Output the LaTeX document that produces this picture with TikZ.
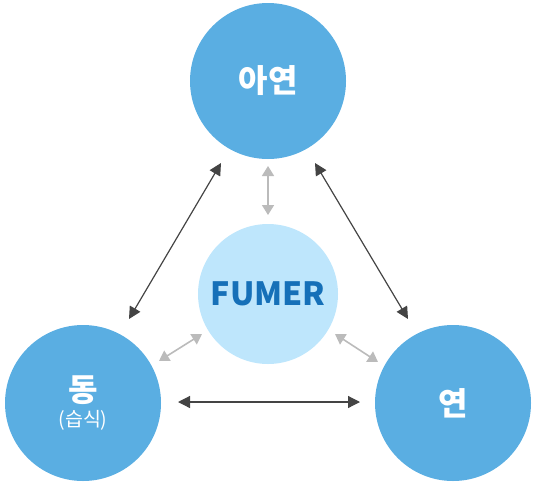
\documentclass[tikz,border=0pt]{standalone}
\usepackage{fontspec}
\newfontfamily\kr{Noto Sans CJK KR}
\usetikzlibrary{arrows.meta}
\definecolor{bigblue}{HTML}{5AAEE2}
\definecolor{paleblue}{HTML}{BEE6FC}
\definecolor{fumerblue}{HTML}{1670B8}
\definecolor{darkarrow}{HTML}{444444}
\definecolor{grayarrow}{HTML}{BBBBBB}
\tikzset{
  bigcircle/.style={circle, fill=bigblue, minimum size=156pt, inner sep=0pt, text=white, align=center},
  midcircle/.style={circle, fill=paleblue, minimum size=140pt, inner sep=0pt},
  darklink/.style={draw=darkarrow, line width=1.2pt, {Triangle[length=12pt,width=12pt]}-{Triangle[length=12pt,width=12pt]}},
  graylink/.style={draw=grayarrow, line width=1.6pt, {Triangle[length=10pt,width=12pt]}-{Triangle[length=10pt,width=12pt]}},
}
\begin{document}
\begin{tikzpicture}[x=1pt,y=-1pt]
\useasboundingbox (0,0) rectangle (534,482);
\node[bigcircle] (zn) at (268,81) {\kr\bfseries\fontsize{32}{34}\selectfont 아연};
\node[bigcircle] (cu) at (83,403) {\kr\bfseries\fontsize{32}{34}\selectfont 동\\[4pt]\kr\mdseries\fontsize{19.5}{21}\selectfont (습식)};
\node[bigcircle] (pb) at (453,403) {\kr\bfseries\fontsize{32}{34}\selectfont 연};
\node[midcircle] (fm) at (268,294) {\kr\bfseries\fontsize{32}{34}\selectfont\color{fumerblue}FUMER};
\coordinate (a1) at (221,163); \coordinate (a2) at (129,319);
\coordinate (b1) at (315,163); \coordinate (b2) at (408,319);
\coordinate (c1) at (178,402); \coordinate (c2) at (360,402);
\coordinate (d1) at (268,166); \coordinate (d2) at (268,215);
\coordinate (e1) at (159,361); \coordinate (e2) at (202,334);
\coordinate (f1) at (335,334); \coordinate (f2) at (378,362);
\draw[darklink] (a1) -- (a2);
\draw[darklink] (b1) -- (b2);
\draw[darklink] (c1) -- (c2);
\draw[graylink] (d1) -- (d2);
\draw[graylink] (e1) -- (e2);
\draw[graylink] (f1) -- (f2);
\end{tikzpicture}
\end{document}
